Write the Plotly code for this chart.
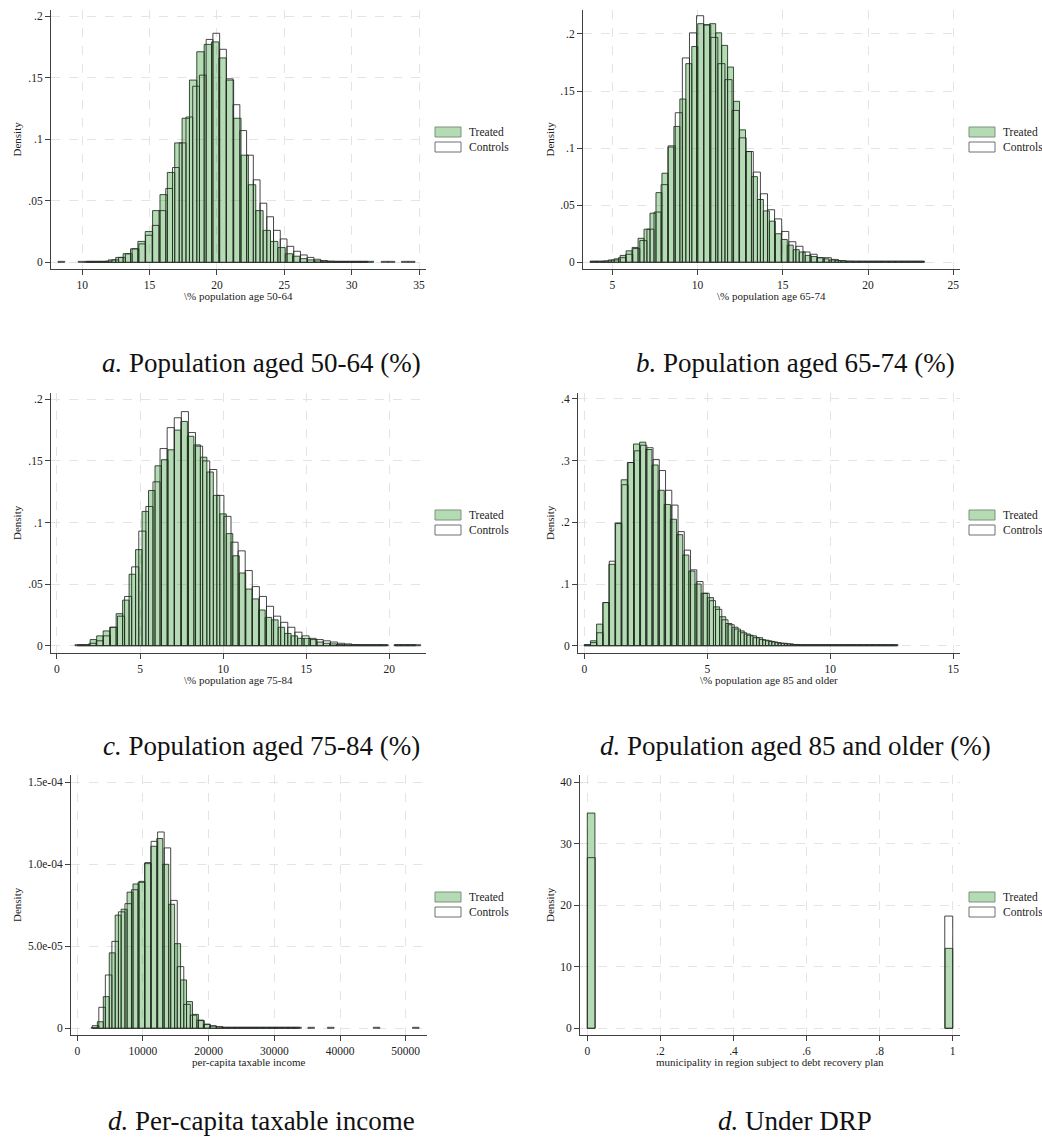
import plotly.graph_objects as go

W, H = 1042, 1142

# ---------------- histogram densities (left bin edge, bin width, bin heights) ----------------
# a. population aged 50-64 (%)
a_treated_start, a_treated_width = 10.3, 0.547
a_treated = [0.0008, 0.0008, 0.0008, 0.002, 0.004, 0.007, 0.011, 0.017, 0.025, 0.042,
             0.055, 0.073, 0.097, 0.117, 0.148, 0.171, 0.177, 0.179, 0.166, 0.148,
             0.117, 0.087, 0.063, 0.042, 0.026, 0.017, 0.012, 0.007, 0.005, 0.003,
             0.002, 0.0012, 0.0008, 0.0008, 0.0008, 0.0008, 0.0008, 0.0008, 0.0008]
a_controls_start, a_controls_width = 8.2, 0.5
a_controls = [0.0008, 0, 0, 0.0008, 0.0008, 0.0008, 0.0008, 0.001, 0.002, 0.004,
              0.007, 0.011, 0.015, 0.022, 0.030, 0.042, 0.060, 0.077, 0.097, 0.118,
              0.143, 0.152, 0.181, 0.186, 0.173, 0.149, 0.128, 0.107, 0.087, 0.067,
              0.048, 0.037, 0.026, 0.019, 0.013, 0.009, 0.006, 0.004, 0.0025, 0.0015,
              0.001, 0.0008, 0.0008, 0.0008, 0.0008, 0.0008, 0, 0, 0.0008, 0.0008,
              0, 0.0008, 0.0008]

# b. population aged 65-74 (%)
b_treated_start, b_treated_width = 3.71, 0.35
b_treated = [0.0009, 0.0009, 0.001, 0.002, 0.003, 0.006, 0.010, 0.013, 0.021, 0.029,
             0.043, 0.061, 0.078, 0.101, 0.119, 0.143, 0.174, 0.189, 0.209, 0.208,
             0.209, 0.201, 0.190, 0.171, 0.141, 0.116, 0.097, 0.075, 0.055, 0.045,
             0.036, 0.025, 0.020, 0.015, 0.011, 0.009, 0.006, 0.005, 0.004, 0.003,
             0.002, 0.0015, 0.001] + [0.0009] * 13
b_controls_start, b_controls_width = 3.70, 0.416
b_controls = [0.0009, 0.0009, 0.0012, 0.002, 0.004, 0.007, 0.012, 0.019, 0.029, 0.044,
              0.068, 0.102, 0.131, 0.179, 0.201, 0.216, 0.208, 0.197, 0.174, 0.160,
              0.133, 0.109, 0.097, 0.079, 0.060, 0.046, 0.038, 0.027, 0.018, 0.014,
              0.009, 0.007, 0.004, 0.004, 0.0025, 0.0015, 0.001] + [0.0009] * 10

# c. population aged 75-84 (%)
c_treated_start, c_treated_width = 1.22, 0.39
c_treated = [0.0008, 0.0008, 0.005, 0.008, 0.012, 0.015, 0.026, 0.037, 0.058, 0.078,
             0.109, 0.126, 0.146, 0.151, 0.159, 0.175, 0.182, 0.170, 0.163, 0.153,
             0.141, 0.122, 0.107, 0.091, 0.073, 0.059, 0.046, 0.038, 0.029, 0.023,
             0.021, 0.015, 0.010, 0.008, 0.006, 0.006, 0.005, 0.003, 0.002, 0.0015,
             0.001, 0.0008, 0.0008, 0.0008, 0.0008, 0.0008, 0.0008, 0.0008, 0,
             0.0008, 0.0008, 0.0008, 0.0008]
c_controls_start, c_controls_width = 1.08, 0.427
c_controls = [0.0008, 0.0008, 0.002, 0.004, 0.008, 0.015, 0.024, 0.040, 0.064, 0.093,
              0.113, 0.133, 0.160, 0.177, 0.185, 0.190, 0.173, 0.162, 0.150, 0.143,
              0.122, 0.105, 0.084, 0.077, 0.061, 0.048, 0.040, 0.032, 0.024, 0.019,
              0.015, 0.011, 0.008, 0.006, 0.005, 0.004, 0.003, 0.002, 0.0015, 0.001,
              0.0008, 0.0008, 0.0008, 0.0008, 0, 0.0008, 0.0008, 0.0008]

# d. population aged 85 and older (%)
d_treated_start, d_treated_width = 0.0, 0.25
d_treated = [0.0016, 0.008, 0.035, 0.070, 0.132, 0.199, 0.269, 0.297, 0.327, 0.330,
             0.318, 0.293, 0.252, 0.229, 0.205, 0.180, 0.147, 0.121, 0.100, 0.085,
             0.078, 0.063, 0.047, 0.036, 0.030, 0.024, 0.019, 0.016, 0.013, 0.009,
             0.007, 0.005, 0.004, 0.003, 0.002] + [0.0016] * 16
d_controls_start, d_controls_width = 0.0, 0.254
d_controls = [0.0016, 0.005, 0.021, 0.070, 0.137, 0.198, 0.261, 0.297, 0.316, 0.325,
              0.321, 0.302, 0.284, 0.252, 0.228, 0.185, 0.155, 0.123, 0.104, 0.085,
              0.073, 0.059, 0.042, 0.034, 0.027, 0.021, 0.017, 0.013, 0.010, 0.008,
              0.006, 0.004, 0.003, 0.002] + [0.0016] * 16

# e. per-capita taxable income
e_treated_start, e_treated_width = 2150, 905
e_treated = [6e-7, 4e-6, 1.93e-5, 4.6e-5, 6.9e-5, 7.26e-5, 8.3e-5, 8.8e-5, 8.96e-5, 1.01e-4,
             1.11e-4, 1.157e-4, 1.0e-4, 7.56e-5, 5.16e-5, 2.95e-5, 1.63e-5, 8.5e-6, 4.7e-6,
             2.4e-6, 1.4e-6, 8e-7] + [6e-7] * 13
e_controls_start, e_controls_width = 2280, 995
e_controls = [1.6e-6, 1.28e-5, 3.25e-5, 5.3e-5, 7.1e-5, 7.6e-5, 8.45e-5, 8.9e-5, 1.006e-4, 1.14e-4,
              1.197e-4, 1.10e-4, 7.8e-5, 3.76e-5, 1.46e-5, 8e-6, 5e-6, 2.5e-6, 1.5e-6, 1e-6] \
    + [6e-7] * 12 \
    + [0, 6e-7, 0, 0, 6e-7, 0, 0, 0, 0, 0, 0, 6e-7, 0, 0, 0, 0, 0, 6e-7]

# f. municipality in region under debt recovery plan (0/1 indicator)
f_values = [0, 1]
f_treated_bins, f_controls_bins = 48, 46
f_treated = [35.0, 13.0]
f_controls = [27.75, 18.25]

# ---------------- styling ----------------
SERIF = "Liberation Serif"
TREATED_FILL = "rgba(0,130,0,0.29)"
TREATED_LINE = "rgba(25,50,25,0.85)"
CONTROLS_FILL = "rgba(255,255,255,0)"
CONTROLS_LINE = "rgba(40,40,40,0.85)"
AXIS_COLOR = "#404040"
GRID_COLOR = "#e4e4e4"


def binned_bars(start, width, heights, fill, line, axis_id):
    centers = [start + width * (k + 0.5) for k in range(len(heights))]
    return go.Bar(
        x=centers, y=[h if h else None for h in heights], width=width,
        marker=dict(color=fill, line=dict(color=line, width=1)),
        xaxis="x" + axis_id, yaxis="y" + axis_id,
        showlegend=False, hoverinfo="skip",
    )


def indicator_bars(values, nbins, heights, fill, line, axis_id):
    w = 1.0 / nbins
    centers = [min(int(v / w), nbins - 1) * w + w / 2 for v in values]
    return go.Bar(
        x=centers, y=heights, width=w,
        marker=dict(color=fill, line=dict(color=line, width=1)),
        xaxis="x" + axis_id, yaxis="y" + axis_id,
        showlegend=False, hoverinfo="skip",
    )


# panel frames in pixels: (left, right, top, bottom)
panels = [
    dict(box=(51, 426, 10, 269), xr=(7.68, 35.52), yr=(-0.0054, 0.2049),
         xt=[10, 15, 20, 25, 30, 35], xtt=None,
         yt=[0, .05, .1, .15, .2], ytt=["0", ".05", ".1", ".15", ".2"],
         xtitle="\\% population age 50-64",
         caption="<i>a.</i> Population aged 50-64 (%)"),
    dict(box=(583, 960, 10, 269), xr=(3.28, 25.39), yr=(-0.0059, 0.221),
         xt=[5, 10, 15, 20, 25], xtt=None,
         yt=[0, .05, .1, .15, .2], ytt=["0", ".05", ".1", ".15", ".2"],
         xtitle="\\% population age 65-74",
         caption="<i>b.</i> Population aged 65-74 (%)"),
    dict(box=(51, 426, 393, 653), xr=(-0.36, 22.21), yr=(-0.0059, 0.2051),
         xt=[0, 5, 10, 15, 20], xtt=None,
         yt=[0, .05, .1, .15, .2], ytt=["0", ".05", ".1", ".15", ".2"],
         xtitle="\\% population age 75-84",
         caption="<i>c.</i> Population aged 75-84 (%)"),
    dict(box=(578, 960, 393, 653), xr=(-0.256, 15.27), yr=(-0.0118, 0.4097),
         xt=[0, 5, 10, 15], xtt=None,
         yt=[0, .1, .2, .3, .4], ytt=["0", ".1", ".2", ".3", ".4"],
         xtitle="\\% population age 85 and older",
         caption="<i>d.</i> Population aged 85 and older (%)"),
    dict(box=(71, 427, 775, 1035), xr=(-960, 53243), yr=(-4.09e-6, 1.5445e-4),
         xt=[0, 10000, 20000, 30000, 40000, 50000], xtt=None,
         yt=[0, 5e-5, 1e-4, 1.5e-4], ytt=["0", "5.0e-05", "1.0e-04", "1.5e-04"],
         xtitle="per-capita taxable income",
         caption="<i>d.</i> Per-capita taxable income"),
    dict(box=(580, 960, 775, 1035), xr=(-0.02, 1.0199), yr=(-1.09, 41.19),
         xt=[0, .2, .4, .6, .8, 1], xtt=["0", ".2", ".4", ".6", ".8", "1"],
         yt=[0, 10, 20, 30, 40], ytt=["0", "10", "20", "30", "40"],
         xtitle="municipality in region subject to debt recovery plan",
         caption="<i>d.</i> Under DRP"),
]

series = [
    (a_treated_start, a_treated_width, a_treated, a_controls_start, a_controls_width, a_controls),
    (b_treated_start, b_treated_width, b_treated, b_controls_start, b_controls_width, b_controls),
    (c_treated_start, c_treated_width, c_treated, c_controls_start, c_controls_width, c_controls),
    (d_treated_start, d_treated_width, d_treated, d_controls_start, d_controls_width, d_controls),
    (e_treated_start, e_treated_width, e_treated, e_controls_start, e_controls_width, e_controls),
]

fig = go.Figure()
for i, (ts, tw, th, cs, cw, ch) in enumerate(series):
    aid = "" if i == 0 else str(i + 1)
    fig.add_trace(binned_bars(ts, tw, th, TREATED_FILL, TREATED_LINE, aid))
    fig.add_trace(binned_bars(cs, cw, ch, CONTROLS_FILL, CONTROLS_LINE, aid))
fig.add_trace(indicator_bars(f_values, f_treated_bins, f_treated, TREATED_FILL, TREATED_LINE, "6"))
fig.add_trace(indicator_bars(f_values, f_controls_bins, f_controls, CONTROLS_FILL, CONTROLS_LINE, "6"))


def px_x(p):
    return p / W


def px_y(p):
    return 1 - p / H


layout = dict(
    width=W, height=H, margin=dict(l=0, r=0, t=0, b=0),
    paper_bgcolor="white", plot_bgcolor="white",
    barmode="overlay", showlegend=False,
    font=dict(family=SERIF, size=11, color="#222"),
)
annotations, shapes = [], []

for i, p in enumerate(panels):
    sfx = "" if i == 0 else str(i + 1)
    l, r, t, b = p["box"]
    tick_font = dict(family=SERIF, size=11.5, color="#222")
    layout["xaxis" + sfx] = dict(
        domain=[px_x(l), px_x(r)], range=list(p["xr"]), anchor="y" + sfx,
        tickvals=p["xt"], ticktext=p["xtt"] if p["xtt"] else [str(v) for v in p["xt"]],
        showline=True, linecolor=AXIS_COLOR, linewidth=1,
        ticks="outside", ticklen=5, tickcolor=AXIS_COLOR, tickwidth=1,
        showgrid=True, gridcolor=GRID_COLOR, griddash="dash", gridwidth=1,
        zeroline=False, tickfont=tick_font, fixedrange=True,
    )
    layout["yaxis" + sfx] = dict(
        domain=[px_y(b), px_y(t)], range=list(p["yr"]), anchor="x" + sfx,
        tickvals=p["yt"], ticktext=p["ytt"],
        showline=True, linecolor=AXIS_COLOR, linewidth=1,
        ticks="outside", ticklen=5, tickcolor=AXIS_COLOR, tickwidth=1,
        showgrid=True, gridcolor=GRID_COLOR, griddash="dash", gridwidth=1,
        zeroline=False, tickfont=tick_font, fixedrange=True,
    )

    col_left = 0 if l < 500 else 520
    # x-axis title
    annotations.append(dict(
        text=p["xtitle"], x=px_x((l + r) / 2), y=px_y(b + 27),
        xref="paper", yref="paper", xanchor="center", yanchor="middle",
        showarrow=False, font=dict(family=SERIF, size=11, color="#222")))
    # y-axis title
    annotations.append(dict(
        text="Density", x=px_x(col_left + 17 + (13 if col_left else 0)), y=px_y((t + b) / 2),
        xref="paper", yref="paper", xanchor="center", yanchor="middle", textangle=-90,
        showarrow=False, font=dict(family=SERIF, size=11, color="#222")))
    # panel caption
    cap_y = [363, 746, 1121][i // 2]
    cap_x = 261 if col_left == 0 else 795
    annotations.append(dict(
        text=p["caption"], x=px_x(cap_x), y=px_y(cap_y),
        xref="paper", yref="paper", xanchor="center", yanchor="middle",
        showarrow=False, font=dict(family=SERIF, size=27, color="#111")))

    # legend keys
    key_l = 435 if col_left == 0 else 969
    key_t = t + 117
    for j, (label, fill, edge) in enumerate([
        ("Treated", "#b5dbb5", "#7a937a"),
        ("Controls", "white", "#707070"),
    ]):
        y0 = key_t + j * 15
        shapes.append(dict(
            type="rect", xref="paper", yref="paper",
            x0=px_x(key_l), x1=px_x(key_l + 26), y0=px_y(y0 + 10), y1=px_y(y0),
            fillcolor=fill, line=dict(color=edge, width=1)))
        annotations.append(dict(
            text=label, x=px_x(key_l + 32), y=px_y(y0 + 5),
            xref="paper", yref="paper", xanchor="left", yanchor="middle",
            showarrow=False, font=dict(family=SERIF, size=11.5, color="#222")))

layout["annotations"] = annotations
layout["shapes"] = shapes
fig.update_layout(**layout)

fig.write_html("out.html")
